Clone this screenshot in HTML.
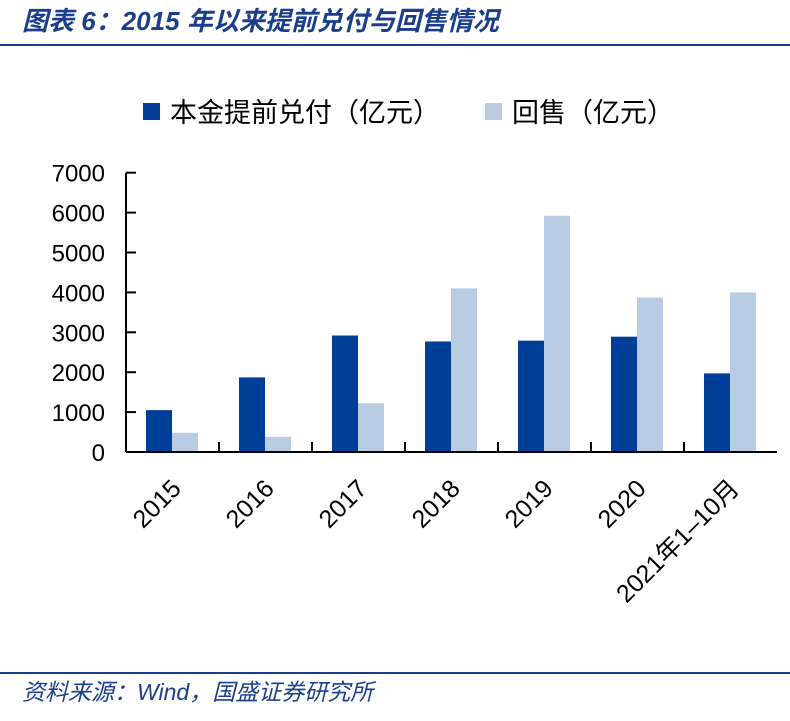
<!DOCTYPE html>
<html><head><meta charset="utf-8"><style>
body{margin:0;background:#fff;width:790px;height:716px;overflow:hidden;font-family:"Liberation Sans","Noto Sans CJK SC",sans-serif}
</style></head><body>
<svg width="790" height="716" xmlns="http://www.w3.org/2000/svg">
<text x="22" y="30" font-size="26" font-weight="bold" font-style="italic" fill="#1a3e8c" font-family="Liberation Sans,Noto Sans CJK SC,sans-serif">图表 6：2015 年以来提前兑付与回售情况</text>
<line x1="0" y1="45" x2="790" y2="45" stroke="#1a3e8c" stroke-width="2"/>
<g>
<rect x="143" y="103" width="17" height="17" fill="#003f98"/>
<text x="170" y="122" font-size="27" fill="#000">本金提前兑付（亿元）</text>
<rect x="485" y="103" width="17" height="17" fill="#b8cce4"/>
<text x="512" y="122" font-size="27" fill="#000">回售（亿元）</text>
</g>
<g id="plot"></g>
<line x1="0" y1="673" x2="790" y2="673" stroke="#1a3e8c" stroke-width="2"/>
<text x="22" y="700" font-size="23" font-style="italic" fill="#1a3e8c">资料来源：Wind，国盛证券研究所</text>
</svg>
<script>
const categories=["2015","2016","2017","2018","2019","2020","2021年1–10月"];
const principal=[1050,1870,2920,2770,2790,2890,1970];
const putback=[480,380,1220,4100,5920,3870,4000];
const yTicks=[0,1000,2000,3000,4000,5000,6000,7000];
const NS="http://www.w3.org/2000/svg";
const g=document.getElementById("plot");
const x0=126,catW=93,y0=452,pxPer=39.9/1000;
const y=v=>y0-v*pxPer;
function el(t,a){const e=document.createElementNS(NS,t);for(const k in a)e.setAttribute(k,a[k]);g.appendChild(e);return e;}
yTicks.forEach(v=>{
 const t=el("line",{x1:x0,x2:x0+10,y1:y(v),y2:y(v),stroke:"#000","stroke-width":2});
 
 
 const l=el("text",{x:x0-21,y:y(v)+9,"font-size":24,"text-anchor":"end",fill:"#000"});
 l.textContent=v;
 
 
});
categories.forEach((c,i)=>{
 const cx=x0+i*catW;
 const b1=el("rect",{x:cx+20,y:y(principal[i]),width:26,height:principal[i]*pxPer,fill:"#003f98"});
 
 
 const b2=el("rect",{x:cx+46,y:y(putback[i]),width:26,height:putback[i]*pxPer,fill:"#b8cce4"});
 
 
 if(i>0){const t=el("line",{x1:cx,x2:cx,y1:y0,y2:y0-10,stroke:"#000","stroke-width":2});
 
 }
 const lx=cx+catW/2+10,ly=y0+38;
 const l=el("text",{x:lx,y:ly,"font-size":25,"text-anchor":"end",fill:"#000",transform:`rotate(-45 ${lx} ${ly})`});
 l.textContent=c;
 
 
});
const ax=el("line",{x1:x0,x2:x0,y1:y(7000),y2:y0,stroke:"#000","stroke-width":2});


const bx=el("line",{x1:x0,x2:x0+7*catW,y1:y0,y2:y0,stroke:"#000","stroke-width":2});


</script>
</body></html>
